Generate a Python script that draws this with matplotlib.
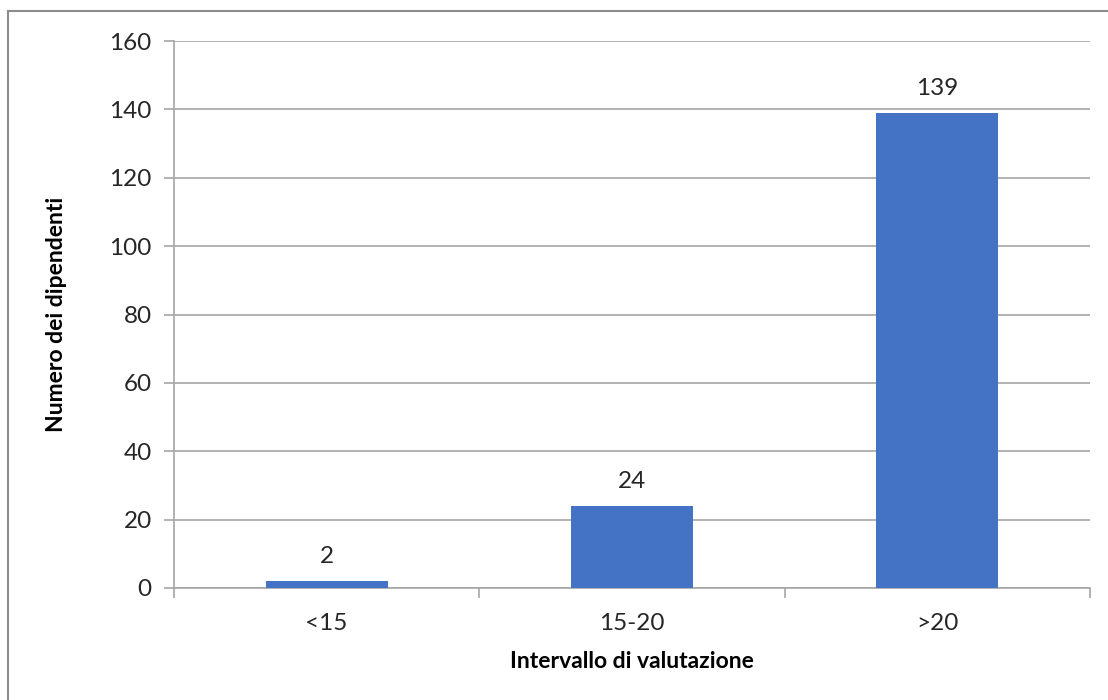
import matplotlib
matplotlib.use("Agg")
import matplotlib.pyplot as plt
from matplotlib.lines import Line2D

# dati
categorie = ['<15', '15-20', '>20']
dipendenti = [2, 24, 139]
yticks = [0, 20, 40, 60, 80, 100, 120, 140, 160]

plt.rcParams['font.family'] = ['Lato', 'DejaVu Sans']
grigio = '#A6A6A6'

fig = plt.figure(figsize=(11.08, 7.0), dpi=100, facecolor='white')
ax = fig.add_axes([0.157, 0.16, 0.8268, 0.7814])

x = range(len(categorie))
bars = ax.bar(x, dipendenti, width=0.4, color='#4472C4', zorder=3)

# etichette sopra le barre
for b, v in zip(bars, dipendenti):
    ax.annotate(str(v), (b.get_x() + b.get_width() / 2, v),
                xytext=(0, 10), textcoords='offset points',
                ha='center', va='bottom', fontsize=17.5, color='#262626')

ax.set_xlim(-0.5, len(categorie) - 0.5)
ax.set_ylim(0, 160)
ax.set_yticks(yticks)
ax.yaxis.grid(True, color=grigio, linewidth=1.2, zorder=0)

ax.set_xticks(list(x))
ax.set_xticklabels(categorie)
ax.set_xticks([i - 0.5 for i in range(len(categorie) + 1)], minor=True)
ax.tick_params(axis='x', which='major', length=0, pad=18, labelsize=17.5, labelcolor='#262626')
ax.tick_params(axis='x', which='minor', length=7, width=1.2, color=grigio, direction='out')
ax.tick_params(axis='y', length=7, width=1.2, color=grigio, pad=9, labelsize=17.5, labelcolor='#262626')

for s in ['top', 'right']:
    ax.spines[s].set_visible(False)
for s in ['left', 'bottom']:
    ax.spines[s].set_color(grigio)
    ax.spines[s].set_linewidth(1.2)

ax.set_xlabel('Intervallo di valutazione', fontsize=16.5, fontweight='bold', va='center')
ax.set_ylabel('Numero dei dipendenti', fontsize=16.5, fontweight='bold', va='center')
ax.xaxis.set_label_coords(0.5, -0.1335)
ax.yaxis.set_label_coords(-0.1277, 0.5)

# bordo dell'area del grafico (solo alto e sinistra visibili)
fig.add_artist(Line2D([8 / 1108, 1.0], [1 - 11 / 700, 1 - 11 / 700],
                      transform=fig.transFigure, color='#8C8C8C', linewidth=1.5))
fig.add_artist(Line2D([8 / 1108, 8 / 1108], [0.0, 1 - 11 / 700],
                      transform=fig.transFigure, color='#8C8C8C', linewidth=1.5))

plt.savefig('out.png', dpi=100, facecolor='white')
